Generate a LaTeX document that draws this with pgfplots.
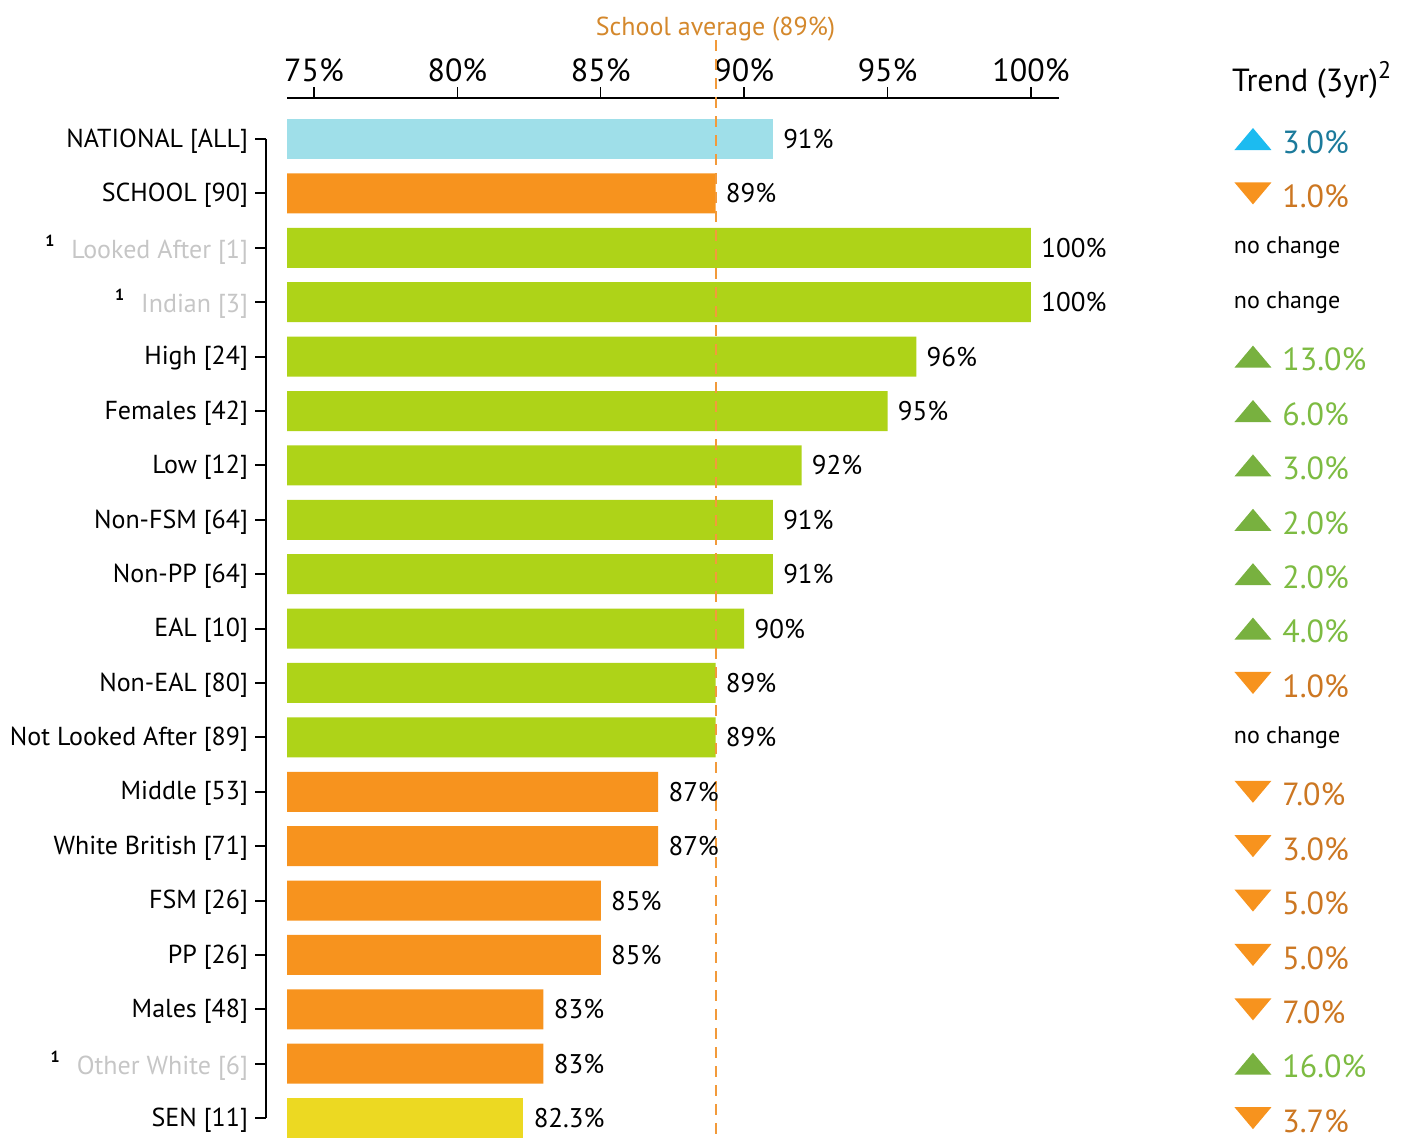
\documentclass[border=0pt]{standalone}
\usepackage{pgfplots}
\pgfplotsset{compat=1.18}
\usepackage{fontspec}
\setmainfont{PT Sans}
\definecolor{barblue}{HTML}{9FDFE9}
\definecolor{barorange}{HTML}{F7931E}
\definecolor{bargreen}{HTML}{AED318}
\definecolor{baryellow}{HTML}{ECD922}
\definecolor{lgray}{HTML}{C6C6C6}
\definecolor{avgline}{HTML}{F29A3A}
\definecolor{avgtext}{HTML}{D4882C}
\definecolor{triblue}{HTML}{1CBBF0}
\definecolor{txtblue}{HTML}{1B7A9B}
\definecolor{trigreen}{HTML}{78B13F}
\definecolor{txtgreen}{HTML}{7DBB42}
\definecolor{triorange}{HTML}{F7931E}
\definecolor{txtorange}{HTML}{CC7722}
\pgfdeclareplotmark{tup}{\pgfpathmoveto{\pgfqpoint{-9.25pt}{-5.5pt}}\pgfpathlineto{\pgfqpoint{9.25pt}{-5.5pt}}\pgfpathlineto{\pgfqpoint{0pt}{5.5pt}}\pgfpathclose\pgfusepathqfill}
\pgfdeclareplotmark{tdown}{\pgfpathmoveto{\pgfqpoint{-9.25pt}{5.5pt}}\pgfpathlineto{\pgfqpoint{9.25pt}{5.5pt}}\pgfpathlineto{\pgfqpoint{0pt}{-5.5pt}}\pgfpathclose\pgfusepathqfill}
\newcommand{\sone}{{\fontsize{8}{9}\selectfont\bfseries\raisebox{6pt}{1}}\hspace{8.5pt}}
\begin{document}
\begin{tikzpicture}
\begin{axis}[
  scale only axis, width=386pt, height=520.9pt,
  xmin=74.06, xmax=100.98, ymin=-0.754, ymax=18.4,
  y dir=reverse,
  x coord trafo/.code={\pgfmathparse{#1-74.06}},
  x coord inv trafo/.code={\pgfmathparse{#1+74.06}},
  clip=false,
  axis x line*=top,
  axis y line*=left,
  axis y line shift=10.5pt,
  y axis line style={draw=none},
  x axis line style={line width=1pt},
  xtick={75,80,85,90,95,100},
  xticklabels={75\%,80\%,85\%,90\%,95\%,100\%},
  ytick={0,...,18},
  yticklabels={NATIONAL [ALL],SCHOOL [90],{\sone\textcolor{lgray}{Looked After [1]}},{\sone\textcolor{lgray}{Indian [3]}},High [24],Females [42],Low [12],Non-FSM [64],Non-PP [64],EAL [10],Non-EAL [80],Not Looked After [89],Middle [53],White British [71],FSM [26],PP [26],Males [48],{\sone\textcolor{lgray}{Other White [6]}},SEN [11]},
  tick align=outside,
  major tick length=5.5pt,
  xtick style={line width=0.7pt, black},
  ytick style={line width=1pt, black},
  xticklabel style={font=\fontsize{16}{18}\selectfont, inner sep=0pt, yshift=2.5pt},
  yticklabel style={font=\fontsize{13}{16}\selectfont, inner sep=0pt, xshift=-3.3pt, yshift=-1pt},
  nodes near coords style={font=\fontsize{13.5}{16}\selectfont, text=black, anchor=west, inner sep=0pt, xshift=5pt},
]
\addplot[xbar, bar width=20pt, bar shift=0pt, fill=barblue, draw=none, nodes near coords, point meta=explicit symbolic] coordinates {(91,0) [91\%]};
\addplot[xbar, bar width=20pt, bar shift=0pt, fill=barorange, draw=none, nodes near coords, point meta=explicit symbolic] coordinates {(89,1) [89\%] (87,12) [87\%] (87,13) [87\%] (85,14) [85\%] (85,15) [85\%] (83,16) [83\%] (83,17) [83\%]};
\addplot[xbar, bar width=20pt, bar shift=0pt, fill=bargreen, draw=none, nodes near coords, point meta=explicit symbolic] coordinates {(100,2) [100\%] (100,3) [100\%] (96,4) [96\%] (95,5) [95\%] (92,6) [92\%] (91,7) [91\%] (91,8) [91\%] (90,9) [90\%] (89,10) [89\%] (89,11) [89\%]};
\addplot[xbar, bar width=20pt, bar shift=0pt, fill=baryellow, draw=none, nodes near coords, point meta=explicit symbolic] coordinates {(82.3,18) [82.3\%]};
% school average line
\addplot[color=avgline, line width=1pt, dash pattern=on 5.5pt off 4pt] coordinates {(89,-1.82) (89,18.3)};
\node[anchor=base, text=avgtext, font=\fontsize{13}{15}\selectfont, inner sep=0pt] at (axis cs:89,-1.912) {School average (89\%)};
% trend column
\addplot[only marks, mark=tup, color=triblue, nodes near coords, point meta=explicit symbolic, nodes near coords style={font=\fontsize{16}{18}\selectfont, text=txtblue, xshift=9.5pt, yshift=-1.5pt}] coordinates {(107.74,0) [3.0\%]};
\addplot[only marks, mark=tup, color=trigreen, nodes near coords, point meta=explicit symbolic, nodes near coords style={font=\fontsize{16}{18}\selectfont, text=txtgreen, xshift=9.5pt, yshift=-1.5pt}] coordinates {(107.74,4) [13.0\%] (107.74,5) [6.0\%] (107.74,6) [3.0\%] (107.74,7) [2.0\%] (107.74,8) [2.0\%] (107.74,9) [4.0\%] (107.74,17) [16.0\%]};
\addplot[only marks, mark=tdown, color=triorange, nodes near coords, point meta=explicit symbolic, nodes near coords style={font=\fontsize{16}{18}\selectfont, text=txtorange, xshift=9.5pt, yshift=-1.5pt}] coordinates {(107.74,1) [1.0\%] (107.74,10) [1.0\%] (107.74,12) [7.0\%] (107.74,13) [3.0\%] (107.74,14) [5.0\%] (107.74,15) [5.0\%] (107.74,16) [7.0\%] (107.74,18) [3.7\%]};
\addplot[draw=none, nodes near coords, point meta=explicit symbolic, nodes near coords style={font=\fontsize{12}{14}\selectfont, text=black, xshift=-5pt}] coordinates {(107.06,2) [no change] (107.06,3) [no change] (107.06,11) [no change]};
\node[anchor=base west, inner sep=0pt, font=\fontsize{16}{18}\selectfont] at (axis cs:107.0,-0.8825) {Trend (3yr)\textsuperscript{\fontsize{12}{14}\selectfont 2}};
% y axis line between first and last category
\draw[line width=1pt] ([xshift=-10.5pt]axis cs:74.06,0) -- ([xshift=-10.5pt]axis cs:74.06,18);
\coordinate (bbtl) at (axis cs:64.052,-2.556);
\coordinate (bbbr) at (axis cs:113.285,18.459);
\end{axis}
\pgfresetboundingbox
\path (bbtl) rectangle (bbbr);
\end{tikzpicture}
\end{document}
